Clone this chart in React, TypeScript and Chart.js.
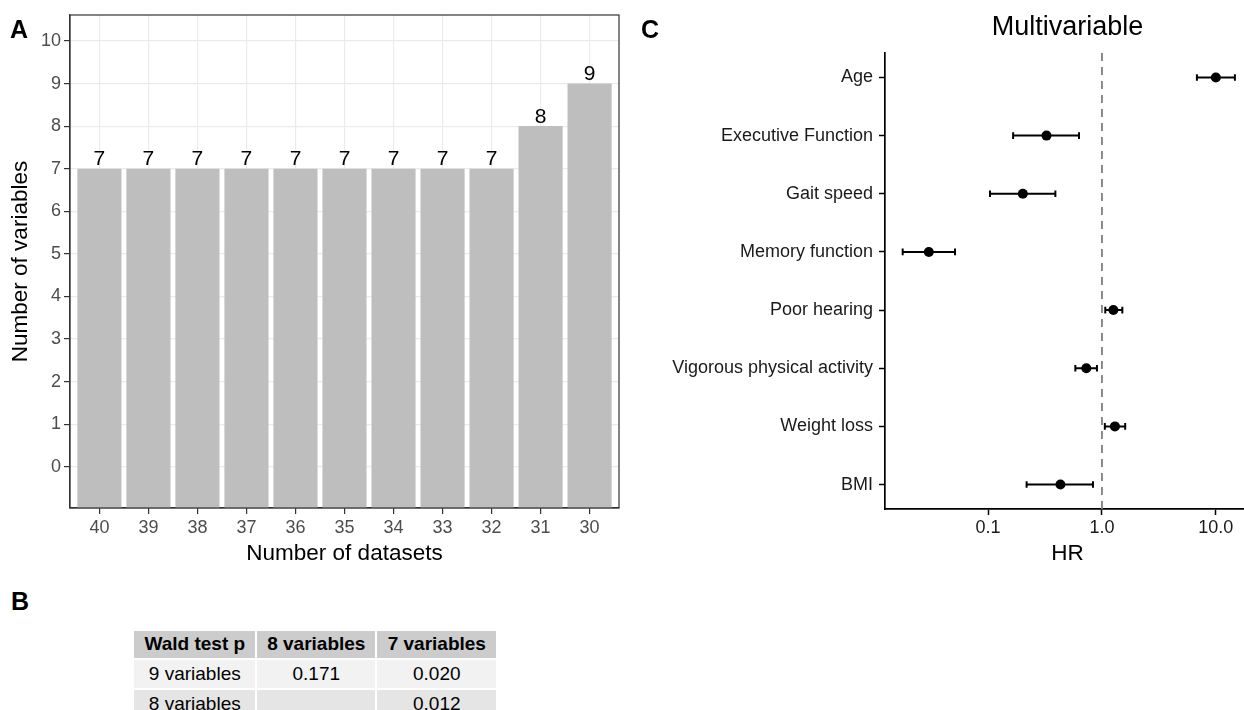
import React, { useEffect, useRef } from "react";
import { Chart, registerables } from "chart.js";

Chart.register(...registerables);
Chart.defaults.font.family = "'Liberation Sans', Arial, Helvetica, sans-serif";

// ---- Panel A data ----
const datasetCounts = ["40", "39", "38", "37", "36", "35", "34", "33", "32", "31", "30"];
const variableCounts = [7, 7, 7, 7, 7, 7, 7, 7, 7, 8, 9];
const variableTicks = [0, 1, 2, 3, 4, 5, 6, 7, 8, 9, 10];
const A_Y_MIN = -0.97;
const A_Y_MAX = 10.61;

// ---- Panel C data ----
const hrLabels = [
  "Age",
  "Executive Function",
  "Gait speed",
  "Memory function",
  "Poor hearing",
  "Vigorous physical activity",
  "Weight loss",
  "BMI",
];
const hrEstimate = [10.0, 0.326, 0.202, 0.0302, 1.26, 0.729, 1.3, 0.432];
const hrLower = [6.82, 0.166, 0.104, 0.0178, 1.07, 0.584, 1.06, 0.218];
const hrUpper = [14.7, 0.629, 0.39, 0.0513, 1.51, 0.904, 1.6, 0.834];
const hrTicks = [0.1, 1, 10];
const hrReference = 1;

// ---- Panel B data ----
const tableHeader = ["Wald test p", "8 variables", "7 variables"];
const tableRows = [
  ["9 variables", "0.171", "0.020"],
  ["8 variables", "", "0.012"],
];

const FONT = "'Liberation Sans', Arial, Helvetica, sans-serif";

const panelBorderPlugin = {
  id: "panelBorder",
  afterDatasetsDraw(chart: any) {
    const { ctx, chartArea } = chart;
    ctx.save();
    ctx.strokeStyle = "#333333";
    ctx.lineWidth = 1.2;
    ctx.strokeRect(chartArea.left, chartArea.top, chartArea.right - chartArea.left, chartArea.bottom - chartArea.top);
    ctx.restore();
  },
};

const barLabelPlugin = {
  id: "barLabels",
  afterDatasetsDraw(chart: any) {
    const { ctx } = chart;
    const meta = chart.getDatasetMeta(0);
    ctx.save();
    ctx.fillStyle = "#000";
    ctx.font = `21px ${FONT}`;
    ctx.textAlign = "center";
    ctx.textBaseline = "alphabetic";
    meta.data.forEach((el: any, i: number) => {
      ctx.fillText(String(variableCounts[i]), el.x, el.y - 3.5);
    });
    ctx.restore();
  },
};

const refLinePlugin = {
  id: "refLine",
  beforeDatasetsDraw(chart: any) {
    const { ctx, chartArea, scales } = chart;
    const x = scales.x.getPixelForValue(hrReference);
    ctx.save();
    ctx.strokeStyle = "#7F7F7F";
    ctx.lineWidth = 1.8;
    ctx.setLineDash([8, 6]);
    ctx.beginPath();
    ctx.moveTo(x, chartArea.top);
    ctx.lineTo(x, chartArea.bottom);
    ctx.stroke();
    ctx.restore();
  },
};

const errorBarPlugin = {
  id: "errorBars",
  beforeDatasetsDraw(chart: any) {
    const { ctx, scales } = chart;
    ctx.save();
    ctx.strokeStyle = "#000";
    ctx.lineWidth = 2;
    const cap = 3.3;
    hrLabels.forEach((_, i) => {
      const y = scales.y.getPixelForValue(i);
      const x1 = scales.x.getPixelForValue(hrLower[i]);
      const x2 = scales.x.getPixelForValue(hrUpper[i]);
      ctx.beginPath();
      ctx.moveTo(x1, y);
      ctx.lineTo(x2, y);
      ctx.moveTo(x1, y - cap);
      ctx.lineTo(x1, y + cap);
      ctx.moveTo(x2, y - cap);
      ctx.lineTo(x2, y + cap);
      ctx.stroke();
    });
    ctx.restore();
  },
};

export default function App() {
  const aRef = useRef<HTMLCanvasElement>(null);
  const cRef = useRef<HTMLCanvasElement>(null);

  useEffect(() => {
    const chartA = new Chart(aRef.current as HTMLCanvasElement, {
      type: "bar",
      data: {
        datasets: [
          {
            data: variableCounts.map((v, i) => ({ x: i, y: v })),
            backgroundColor: "#BEBEBE",
            borderWidth: 0,
            base: A_Y_MIN,
            barPercentage: 0.9,
            categoryPercentage: 1,
          } as any,
        ],
      },
      options: {
        responsive: false,
        animation: false,
        layout: { padding: { left: 0, right: 11, top: 15, bottom: 0 } },
        plugins: { legend: { display: false }, tooltip: { enabled: false } },
        scales: {
          x: {
            type: "linear",
            min: -0.6,
            max: 10.6,
            offset: false,
            afterBuildTicks: (axis: any) => {
              axis.ticks = datasetCounts.map((_, i) => ({ value: i }));
            },
            afterFit: (s: any) => {
              s.height = 72;
            },
            ticks: {
              callback: (v: any) => datasetCounts[Math.round(Number(v))],
              font: { size: 18 },
              color: "#4D4D4D",
              padding: 3,
              maxRotation: 0,
              autoSkip: false,
            },
            grid: { color: "#EBEBEB", lineWidth: 1.2, offset: false, tickColor: "#333333", tickLength: 6, tickWidth: 1.2 },
            border: { color: "#333333", width: 1.2 },
            title: {
              display: true,
              text: "Number of datasets",
              color: "#000",
              font: { size: 22.5 },
              padding: { top: 0, bottom: 12.5 },
            },
          } as any,
          y: {
            type: "linear",
            min: A_Y_MIN,
            max: A_Y_MAX,
            afterBuildTicks: (axis: any) => {
              axis.ticks = variableTicks.map((v) => ({ value: v }));
            },
            afterFit: (s: any) => {
              s.width = 70;
            },
            ticks: {
              callback: (v: any) => String(v),
              font: { size: 18 },
              color: "#4D4D4D",
              padding: 3,
            },
            grid: { color: "#EBEBEB", lineWidth: 1.2, tickColor: "#333333", tickLength: 6, tickWidth: 1.2 },
            border: { color: "#333333", width: 1.2 },
            title: {
              display: true,
              text: "Number of variables",
              color: "#000",
              font: { size: 22.5 },
              padding: { top: 7.5, bottom: 0 },
            },
          } as any,
        },
      },
      plugins: [panelBorderPlugin, barLabelPlugin],
    });

    const chartC = new Chart(cRef.current as HTMLCanvasElement, {
      type: "scatter",
      data: {
        datasets: [
          {
            data: hrEstimate.map((v, i) => ({ x: v, y: i })),
            backgroundColor: "#000",
            borderWidth: 0,
            pointRadius: 5,
          },
        ],
      },
      options: {
        responsive: false,
        animation: false,
        layout: { padding: 0 },
        plugins: {
          legend: { display: false },
          tooltip: { enabled: false },
          title: {
            display: true,
            text: "Multivariable",
            color: "#000",
            font: { size: 27, weight: "normal" },
            fullSize: false,
            padding: { top: 11.8, bottom: 8.8 },
          } as any,
        },
        scales: {
          x: {
            type: "logarithmic",
            min: 0.01245,
            max: 19.95,
            afterBuildTicks: (axis: any) => {
              axis.ticks = hrTicks.map((v) => ({ value: v }));
            },
            afterFit: (s: any) => {
              s.height = 71;
            },
            ticks: {
              callback: (v: any) => Number(v).toFixed(1),
              font: { size: 18 },
              color: "#1A1A1A",
              padding: 2,
              maxRotation: 0,
              autoSkip: false,
            },
            grid: { drawOnChartArea: false, tickColor: "#000", tickLength: 6, tickWidth: 1.5 },
            border: { color: "#000", width: 1.7 },
            title: {
              display: true,
              text: "HR",
              color: "#000",
              font: { size: 22.5 },
              padding: { top: 0, bottom: 12.5 },
            },
          } as any,
          y: {
            type: "linear",
            reverse: true,
            min: -0.42,
            max: 7.42,
            afterBuildTicks: (axis: any) => {
              axis.ticks = hrLabels.map((_, i) => ({ value: i }));
            },
            afterFit: (s: any) => {
              s.width = 255;
            },
            ticks: {
              callback: (v: any) => hrLabels[Math.round(Number(v))],
              font: { size: 18 },
              color: "#1A1A1A",
              padding: 6,
              autoSkip: false,
            },
            grid: { drawOnChartArea: false, tickColor: "#000", tickLength: 6, tickWidth: 1.5 },
            border: { color: "#000", width: 1.7 },
          } as any,
        },
      },
      plugins: [refLinePlugin, errorBarPlugin],
    });

    return () => {
      chartA.destroy();
      chartC.destroy();
    };
  }, []);

  const panelLabel = (text: string, left: number, top: number) => (
    <div
      style={{
        position: "absolute",
        left,
        top,
        fontFamily: FONT,
        fontWeight: "bold",
        fontSize: 25,
        lineHeight: "25px",
        color: "#000",
      }}
    >
      {text}
    </div>
  );

  const cellBase: React.CSSProperties = {
    padding: 0,
    textAlign: "center",
    verticalAlign: "middle",
    fontFamily: FONT,
    fontSize: 19,
    color: "#000",
  };
  const colWidths = [121, 118, 119];
  const rowColors = ["#F2F2F2", "#E5E5E5"];

  return (
    <div
      style={{
        position: "fixed",
        left: 0,
        top: 0,
        width: 1244,
        height: 710,
        overflow: "hidden",
        background: "#fff",
      }}
    >
      <canvas ref={aRef} width={630} height={580} style={{ position: "absolute", left: 0, top: 0, width: 630, height: 580 }} />
      <canvas ref={cRef} width={625} height={580} style={{ position: "absolute", left: 630, top: 0, width: 625, height: 580 }} />
      {panelLabel("A", 10, 17)}
      {panelLabel("B", 11, 589)}
      {panelLabel("C", 641, 17)}
      <table
        style={{
          position: "absolute",
          left: 132.3,
          top: 628.7,
          borderCollapse: "separate",
          borderSpacing: 2,
        }}
      >
        <thead>
          <tr>
            {tableHeader.map((h, j) => (
              <th key={j} style={{ ...cellBase, fontWeight: "bold", background: "#CCCCCC", width: colWidths[j], height: 27 }}>
                {h}
              </th>
            ))}
          </tr>
        </thead>
        <tbody>
          {tableRows.map((row, r) => (
            <tr key={r}>
              {row.map((c, j) => (
                <td key={j} style={{ ...cellBase, background: rowColors[r % 2], width: colWidths[j], height: 28 }}>
                  {c}
                </td>
              ))}
            </tr>
          ))}
        </tbody>
      </table>
    </div>
  );
}
